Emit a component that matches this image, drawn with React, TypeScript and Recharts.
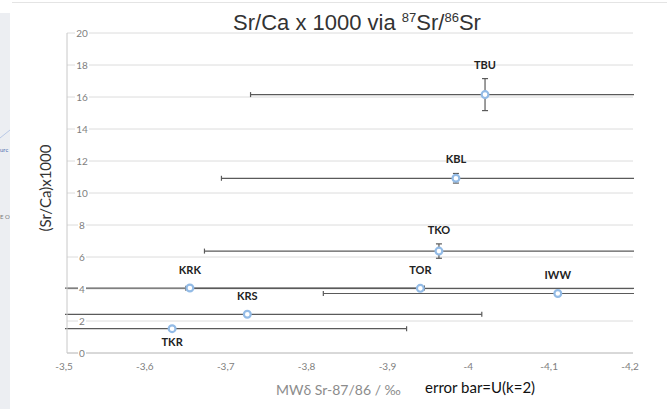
import React from "react";
import {
  ScatterChart,
  Scatter,
  XAxis,
  YAxis,
  CartesianGrid,
  ErrorBar,
  ReferenceDot,
} from "recharts";

const NAMES = ["TBU", "KBL", "TKO", "KRK", "TOR", "IWW", "KRS", "TKR"];
const DELTA = [-4.017, -3.981, -3.96, -3.652, -3.937, -4.107, -3.723, -3.63];
const SRCA = [16.15, 10.92, 6.37, 4.06, 4.04, 3.72, 2.42, 1.52];
const U_DELTA = [0.29, 0.29, 0.29, 0.29, 0.29, 0.29, 0.29, 0.29];
const U_SRCA = [1.0, 0.3, 0.45, 0.1, 0.1, 0.1, 0.1, 0.1];
const LABEL_BELOW = ["TKR"];

const X_TICKS = [-3.5, -3.6, -3.7, -3.8, -3.9, -4.0, -4.1, -4.2];
const Y_TICKS = [0, 2, 4, 6, 8, 10, 12, 14, 16, 18, 20];

const points = NAMES.map((name, i) => ({
  name,
  x: DELTA[i],
  y: SRCA[i],
  ux: U_DELTA[i],
  uy: U_SRCA[i],
}));

const fmtX = (v: number) => {
  const s = v.toFixed(1).replace(".", ",");
  return s.endsWith(",0") ? s.slice(0, -2) : s;
};

const XTick = ({ x, y, payload }: any) => (
  <text
    x={x - 3}
    y={y}
    dy={9}
    textAnchor="middle"
    fill="#808080"
    fontSize={10}
    fontFamily="Lato, sans-serif"
  >
    {fmtX(payload.value)}
  </text>
);

const YTick = ({ x, y, payload }: any) => {
  const s = String(payload.value);
  const w = s.length * 6 + 2;
  return (
    <g>
      <rect x={x + 7 - w / 2} y={y - 6} width={w} height={12} fill="#fff" />
      <text
        x={x + 7}
        y={y}
        dy={3.5}
        textAnchor="middle"
        fill="#808080"
        fontSize={10}
        fontFamily="Lato, sans-serif"
      >
        {s}
      </text>
    </g>
  );
};

const Marker = ({ cx, cy }: any) => (
  <circle cx={cx} cy={cy} r={3.4} fill="#fff" stroke="#93bbe6" strokeWidth={2.2} />
);

export default function App() {
  return (
    <div
      style={{
        position: "fixed",
        left: 0,
        top: 0,
        width: 667,
        height: 409,
        background: "#fff",
        overflow: "hidden",
      }}
    >
      <ScatterChart width={667} height={409} margin={{ top: 33, right: 34, bottom: 0, left: 67 }}>
        <CartesianGrid vertical={false} stroke="#dcdcdc" />
        <XAxis
          type="number"
          dataKey="x"
          domain={[-4.2, -3.5]}
          reversed
          allowDataOverflow
          ticks={X_TICKS}
          height={56}
          tickLine={false}
          stroke="#c4c4c4"
          tick={<XTick />}
        />
        <YAxis
          type="number"
          dataKey="y"
          domain={[0, 20]}
          ticks={Y_TICKS}
          mirror
          tickLine={false}
          stroke="#c8c8c8"
          tick={<YTick />}
        />
        <Scatter data={points} shape={<Marker />} isAnimationActive={false}>
          <ErrorBar dataKey="ux" direction="x" stroke="#5a5a5a" strokeWidth={1.2} width={2.5} isAnimationActive={false} />
          <ErrorBar dataKey="uy" direction="y" stroke="#5a5a5a" strokeWidth={1.2} width={3} isAnimationActive={false} />
        </Scatter>
        {points.map((p) => {
          const below = LABEL_BELOW.includes(p.name);
          return (
            <ReferenceDot
              key={p.name}
              x={p.x}
              y={below ? p.y : p.y + Math.max(p.uy, 0.25)}
              r={0}
              fill="none"
              stroke="none"
              ifOverflow="visible"
              label={{
                value: p.name,
                position: below ? "bottom" : "top",
                offset: 10,
                fill: "#222",
                fontSize: 11,
                fontWeight: 700,
                fontFamily: "Lato, sans-serif",
              }}
            />
          );
        })}
      </ScatterChart>

      {/* error bars are cut at the plot edges */}
      <div style={{ position: "absolute", left: 0, top: 20, width: 65, height: 340, background: "#fff" }} />
      <div style={{ position: "absolute", left: 634, top: 20, width: 33, height: 340, background: "#fff" }} />

      {/* slide leftovers */}
      <div style={{ position: "absolute", left: 12, top: 2, width: 655, height: 1, background: "#e4e4e4" }} />
      <div
        style={{
          position: "absolute",
          left: 0,
          top: 13,
          width: 10,
          height: 396,
          background: "#eceef2",
          overflow: "hidden",
          fontFamily: "Lato, sans-serif",
        }}
      >
        <svg width={10} height={200} style={{ position: "absolute", left: 0, top: 0 }}>
          <line x1={0} y1={125} x2={10} y2={117} stroke="#b9c8e6" strokeWidth={1} />
        </svg>
        <div style={{ position: "absolute", left: 0, top: 133, fontSize: 6, color: "#4a6cb0" }}>urc</div>
        <div style={{ position: "absolute", left: 0, top: 200, fontSize: 6, color: "#7a7a7a" }}>E O</div>
      </div>

      <div
        style={{
          position: "absolute",
          left: 0,
          width: 714,
          top: 4,
          textAlign: "center",
          fontFamily: "'Liberation Sans', Arial, sans-serif",
          fontSize: 22,
          lineHeight: "27px",
          color: "#333",
        }}
      >
        Sr/Ca x 1000 via <sup style={{ fontSize: 13 }}>87</sup>Sr/<sup style={{ fontSize: 13 }}>86</sup>Sr
      </div>

      <div
        style={{
          position: "absolute",
          left: 45,
          top: 188,
          transform: "translate(-50%, -50%) rotate(-90deg)",
          whiteSpace: "nowrap",
          fontFamily: "Lato, sans-serif",
          fontSize: 15,
          color: "#333",
        }}
      >
        (Sr/Ca)x1000
      </div>
      <div
        style={{
          position: "absolute",
          left: 276,
          top: 381,
          whiteSpace: "nowrap",
          fontFamily: "Lato, sans-serif",
          fontSize: 14,
          color: "#8c8c8c",
        }}
      >
        MWδ Sr-87/86 / ‰
      </div>
      <div
        style={{
          position: "absolute",
          left: 425,
          top: 378,
          whiteSpace: "nowrap",
          fontFamily: "Lato, sans-serif",
          fontSize: 15,
          color: "#111",
        }}
      >
        error bar=U(k=2)
      </div>
    </div>
  );
}
